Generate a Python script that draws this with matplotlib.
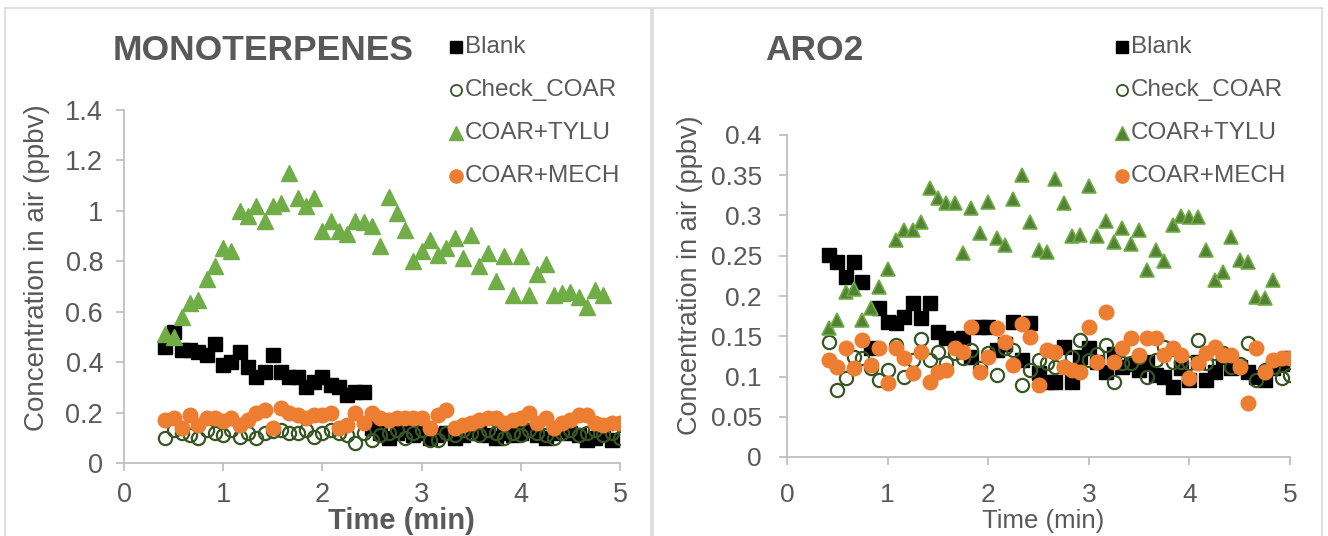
import numpy as np
import matplotlib
matplotlib.use("Agg")
import matplotlib.pyplot as plt
from matplotlib.lines import Line2D
from matplotlib.patches import Rectangle

plt.rcParams['font.family'] = ['Liberation Sans', 'DejaVu Sans']

# sampling times, one reading every 5 s starting at 25 s
minutes = np.arange(5, 61) / 12.0

# ---- MONOTERPENES (ppbv) ----
mono_blank = [0.46, 0.52, 0.45, 0.45, 0.44, 0.43, 0.47, 0.39, 0.40, 0.44,
              0.38, 0.34, 0.36, 0.43, 0.36, 0.34, 0.34, 0.30, 0.32, 0.34,
              0.31, 0.30, 0.27, 0.28, 0.28,
              0.14, 0.12, 0.10, 0.12, 0.13, 0.11, 0.12, 0.10, 0.11, 0.12,
              0.10, 0.11, 0.13, 0.12, 0.11, 0.10, 0.12, 0.11, 0.12, 0.13,
              0.11, 0.10, 0.12, 0.13, 0.12, 0.11, 0.09, 0.10, 0.12, 0.09]
mono_check = [0.10, 0.13, 0.12, 0.11, 0.10, 0.13, 0.12, 0.11, 0.13, 0.105,
              0.12, 0.10, 0.12, 0.125, 0.13, 0.12, 0.12, 0.13, 0.105, 0.12,
              0.13, 0.12, 0.11, 0.08, 0.12, 0.09, 0.11, 0.12, 0.13, 0.10,
              0.12, 0.13, 0.09, 0.09, 0.12, 0.11, 0.13, 0.12, 0.11, 0.13,
              0.12, 0.10, 0.12, 0.11, 0.13, 0.12, 0.11, 0.10, 0.12, 0.13,
              0.11, 0.12, 0.13, 0.11, 0.12, 0.10]
mono_tylu = [0.51, 0.50, 0.58, 0.635, 0.647, 0.73, 0.78, 0.853, 0.84, 1.00,
             0.98, 1.02, 0.96, 1.02, 1.03, 1.15, 1.05, 1.02, 1.05, 0.92,
             0.96, 0.92, 0.91, 0.96, 0.955, 0.94, 0.86, 1.055, 0.99, 0.925,
             0.80, 0.84, 0.885, 0.825, 0.853, 0.893, 0.813, 0.905, 0.78, 0.833,
             0.72, 0.82, 0.667, 0.82, 0.667, 0.75, 0.79, 0.667, 0.675, 0.68,
             0.66, 0.62, 0.687, 0.667]
mono_mech = [0.17, 0.18, 0.14, 0.19, 0.15, 0.18, 0.18, 0.165, 0.18, 0.15,
             0.17, 0.20, 0.21, 0.14, 0.22, 0.20, 0.19, 0.18, 0.19, 0.19,
             0.20, 0.14, 0.15, 0.20, 0.16, 0.20, 0.18, 0.17, 0.18, 0.18,
             0.18, 0.18, 0.14, 0.19, 0.21, 0.14, 0.15, 0.16, 0.17, 0.18,
             0.18, 0.16, 0.17, 0.18, 0.20, 0.16, 0.18, 0.14, 0.16, 0.17,
             0.19, 0.19, 0.16, 0.15, 0.16, 0.16]

# ---- ARO2 (ppbv) ----
aro_blank = [0.251, 0.242, 0.224, 0.242, 0.217, 0.135, 0.185, 0.168, 0.166, 0.174,
             0.191, 0.173, 0.191, 0.155, 0.148, 0.145, 0.148, 0.124, 0.162, 0.162,
             0.133, 0.140, 0.168, 0.120, 0.166, 0.104, 0.093, 0.093, 0.137, 0.093,
             0.124, 0.135, 0.118, 0.106, 0.128, 0.112, 0.115, 0.108, 0.118, 0.102,
             0.099, 0.087, 0.110, 0.096, 0.118, 0.096, 0.105, 0.124, 0.110, 0.112,
             0.105, 0.100, 0.096, 0.110, 0.115, 0.123]
aro_check = [0.143, 0.083, 0.098, 0.124, 0.123, 0.110, 0.096, 0.108, 0.139, 0.099,
             0.120, 0.146, 0.120, 0.131, 0.117, 0.129, 0.123, 0.133, 0.110, 0.129,
             0.102, 0.135, 0.133, 0.089, 0.108, 0.120, 0.117, 0.112, 0.112, 0.124,
             0.145, 0.120, 0.128, 0.139, 0.093, 0.117, 0.117, 0.124, 0.099, 0.120,
             0.137, 0.118, 0.118, 0.117, 0.145, 0.117, 0.129, 0.129, 0.112, 0.115,
             0.141, 0.096, 0.108, 0.112, 0.098, 0.102]
aro_tylu = [0.160, 0.170, 0.205, 0.209, 0.170, 0.185, 0.211, 0.234, 0.270, 0.282,
            0.282, 0.292, 0.334, 0.322, 0.315, 0.315, 0.253, 0.309, 0.278, 0.317,
            0.272, 0.263, 0.320, 0.350, 0.292, 0.257, 0.255, 0.345, 0.315, 0.274,
            0.276, 0.337, 0.274, 0.293, 0.267, 0.284, 0.265, 0.282, 0.232, 0.257,
            0.244, 0.288, 0.299, 0.298, 0.298, 0.257, 0.220, 0.230, 0.273, 0.245,
            0.242, 0.199, 0.197, 0.220]
aro_mech = [0.120, 0.112, 0.135, 0.110, 0.145, 0.114, 0.135, 0.092, 0.135, 0.123,
            0.104, 0.130, 0.093, 0.106, 0.108, 0.135, 0.130, 0.161, 0.106, 0.124,
            0.160, 0.143, 0.114, 0.165, 0.149, 0.089, 0.133, 0.130, 0.112, 0.108,
            0.106, 0.161, 0.118, 0.180, 0.118, 0.135, 0.148, 0.127, 0.148, 0.148,
            0.127, 0.135, 0.127, 0.098, 0.117, 0.129, 0.137, 0.127, 0.127, 0.112,
            0.067, 0.135, 0.106, 0.120, 0.123, 0.123]

labels = ["Blank", "Check_COAR", "COAR+TYLU", "COAR+MECH"]

TEXT = "#595959"
AXIS = "#BFBFBF"
DKGREEN = "#375623"
GREEN = "#70AD47"
GREEN2 = "#548235"
ORANGE = "#ED7D31"

W, H = 1328, 536
fig = plt.figure(figsize=(W / 100, H / 100), dpi=100)


def fx(px):
    return px / W


def fy(py):
    return 1 - py / H


# panel frames
for x0, x1 in [(5, 651), (653, 1322)]:
    fig.add_artist(Rectangle((fx(x0), fy(540)), fx(x1) - fx(x0), fy(8) - fy(540),
                             transform=fig.transFigure, fill=False,
                             edgecolor="#D9D9D9", lw=1.2))


def fmt_num(v):
    return f"{v:.2f}".rstrip("0").rstrip(".")


def style_axes(ax, ymax, ystep, tick_fs, ypad, xpad):
    ax.set_xlim(0, 5)
    ax.set_ylim(0, ymax)
    ax.set_xticks(range(6))
    yt = np.arange(0, ymax + ystep / 2, ystep)
    ax.set_yticks(yt)
    ax.set_yticklabels([fmt_num(v) for v in yt])
    for s in ["top", "right"]:
        ax.spines[s].set_visible(False)
    for s in ["left", "bottom"]:
        ax.spines[s].set_color(AXIS)
        ax.spines[s].set_linewidth(1.3)
    ax.tick_params(colors=AXIS, labelcolor=TEXT, labelsize=tick_fs,
                   length=6, width=1.3, direction="out")
    ax.tick_params(axis="y", pad=ypad)
    ax.tick_params(axis="x", pad=xpad)
    ax.set_facecolor("none")


# ---------- left panel ----------
axl = fig.add_axes([fx(124), fy(463), fx(620) - fx(124), fy(110) - fy(463)])
axl.plot(minutes[:len(mono_blank)], mono_blank, ls="none", marker="s", ms=10.5,
         color="black", mec="black")
axl.plot(minutes[:len(mono_check)], mono_check, ls="none", marker="o", ms=9.5,
         mfc="none", mec=DKGREEN, mew=1.6)
axl.plot(minutes[:len(mono_tylu)], mono_tylu, ls="none", marker="^", ms=11,
         color=GREEN, mec=GREEN)
axl.plot(minutes[:len(mono_mech)], mono_mech, ls="none", marker="o", ms=10.5,
         color=ORANGE, mec=ORANGE)
style_axes(axl, 1.4, 0.2, 19.5, 9, 8)

# ---------- right panel ----------
axr = fig.add_axes([fx(787), fy(457), fx(1290) - fx(787), fy(135) - fy(457)])
axr.plot(minutes[:len(aro_blank)], aro_blank, ls="none", marker="s", ms=10.5,
         color="black", mec="black")
axr.plot(minutes[:len(aro_check)], aro_check, ls="none", marker="o", ms=9.5,
         mfc="none", mec=DKGREEN, mew=1.6)
axr.plot(minutes[:len(aro_tylu)], aro_tylu, ls="none", marker="^", ms=10.5,
         color=GREEN2, mec=GREEN, mew=1.2)
axr.plot(minutes[:len(aro_mech)], aro_mech, ls="none", marker="o", ms=10.5,
         color=ORANGE, mec=ORANGE)
style_axes(axr, 0.4, 0.05, 19, 12, 13)

# titles and axis labels
fig.text(fx(263), fy(50), "MONOTERPENES", ha="center", va="center",
         fontsize=25.5, fontweight="bold", color=TEXT)
fig.text(fx(814), fy(50), "ARO2", ha="center", va="center",
         fontsize=25.5, fontweight="bold", color=TEXT)
fig.text(fx(37), fy(268), "Concentration in air (ppbv)", rotation=90,
         ha="center", va="center", fontsize=20, color=TEXT)
fig.text(fx(690), fy(275), "Concentration in air (ppbv)", rotation=90,
         ha="center", va="center", fontsize=19.5, color=TEXT)
fig.text(fx(401), fy(521), "Time (min)", ha="center", va="center",
         fontsize=21, fontweight="bold", color=TEXT)
fig.text(fx(1043), fy(521), "Time (min)", ha="center", va="center",
         fontsize=18.5, color=TEXT)

# legends
legend_style = [
    dict(marker="s", color="black", mec="black", ms=8.5),
    dict(marker="o", mfc="none", mec=DKGREEN, mew=1.3, ms=8),
    dict(marker="^", color=GREEN, mec=GREEN, ms=9.5),
    dict(marker="o", color=ORANGE, mec=ORANGE, ms=9.5),
]
for mx, tri_color in [(456, GREEN), (1122, GREEN2)]:
    for i, (lab, st) in enumerate(zip(labels, legend_style)):
        yy = 47 + 43 * i
        st = dict(st)
        if st["marker"] == "^":
            st["color"] = tri_color
        fig.add_artist(Line2D([fx(mx)], [fy(yy)], transform=fig.transFigure,
                              ls="none", **st))
        fig.text(fx(mx + 9), fy(yy), lab, ha="left", va="center",
                 fontsize=17.5, color=TEXT)

fig.savefig("out.png", dpi=100)
